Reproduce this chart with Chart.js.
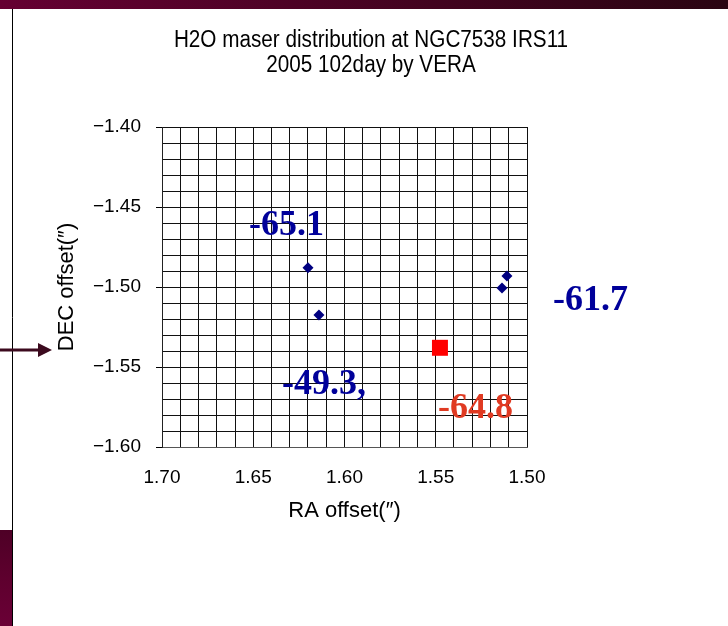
<!DOCTYPE html>
<html>
<head>
<meta charset="utf-8">
<script src="https://cdn.jsdelivr.net/npm/chart.js@4/dist/chart.umd.min.js"></script>
<style>
  html, body { margin: 0; padding: 0; background: #fff; overflow: hidden; }
  #wrap { position: relative; width: 728px; height: 626px; }
</style>
</head>
<body>
<div id="wrap"><canvas id="c" width="728" height="626"></canvas></div>
<script>
// ---- chart data ----
const titleLines = ['H2O maser distribution at NGC7538 IRS11', '2005 102day by VERA'];
const xAxisTitle = 'RA offset(\u2033)';
const yAxisTitle = 'DEC offset(\u2033)';
const raRange = [1.50, 1.70];
const decRange = [-1.60, -1.40];
const gridStep = 0.01;
const labelStep = 0.05;

// maser spots (RA offset, DEC offset in arcsec)
const blueSpotRA  = [1.620, 1.614, 1.5137, 1.511];
const blueSpotDEC = [-1.488, -1.5175, -1.5006, -1.4931];
const redSpotRA   = [1.5477];
const redSpotDEC  = [-1.538];

// LSR velocity labels
const velocityText = ['-65.1', '-61.7', '-49.3,', '-64.8'];

// ---- label placement (data units: left edge / baseline) and colours ----
const velocityAnchors = [
  { ra: 1.6523, dec: -1.4675, color: '#00009a' },
  { ra: 1.4858, dec: -1.5144, color: '#00009a' },
  { ra: 1.6342, dec: -1.5670, color: '#00009a' },
  { ra: 1.5488, dec: -1.5819, color: '#e03a22' }
];

const UI_FONT = '"Liberation Sans", Arial, sans-serif';

const toPoints = (xs, ys) => xs.map((x, i) => ({ x, y: ys[i] }));
const isMajor = v => Math.abs(v / labelStep - Math.round(v / labelStep)) < 1e-6;

// slide frame behind the chart
const slideFrame = {
  id: 'slideFrame',
  beforeDraw(chart) {
    const ctx = chart.ctx;
    ctx.save();
    ctx.fillStyle = '#ffffff';
    ctx.fillRect(0, 0, chart.width, chart.height);
    // top band
    const g = ctx.createLinearGradient(0, 0, chart.width, 0);
    g.addColorStop(0, '#650032');
    g.addColorStop(1, '#2a0512');
    ctx.fillStyle = g;
    ctx.fillRect(0, 0, chart.width, 9);
    // lower-left block
    const g2 = ctx.createLinearGradient(0, 530, 0, 626);
    g2.addColorStop(0, '#4e0026');
    g2.addColorStop(0.5, '#5e002e');
    g2.addColorStop(1, '#6a0036');
    ctx.fillStyle = g2;
    ctx.fillRect(0, 530, 12, 96);
    // divider line
    ctx.strokeStyle = '#000';
    ctx.lineWidth = 1;
    ctx.beginPath();
    ctx.moveTo(12.5, 9);
    ctx.lineTo(12.5, 626);
    ctx.stroke();
    // pointer arrow
    ctx.strokeStyle = '#3c0a1e';
    ctx.fillStyle = '#3c0a1e';
    ctx.lineWidth = 3;
    ctx.beginPath();
    ctx.moveTo(0, 350);
    ctx.lineTo(40, 350);
    ctx.stroke();
    ctx.beginPath();
    ctx.moveTo(38, 343);
    ctx.lineTo(52, 350);
    ctx.lineTo(38, 357);
    ctx.closePath();
    ctx.fill();
    ctx.restore();
  }
};

// two-line heading in a slightly condensed face
const heading = {
  id: 'heading',
  afterDraw(chart) {
    const ctx = chart.ctx;
    ctx.save();
    ctx.fillStyle = '#000';
    ctx.font = '23px ' + UI_FONT;
    ctx.textAlign = 'center';
    ctx.textBaseline = 'middle';
    const cx = 371, sx = 0.9;
    titleLines.forEach((t, i) => {
      ctx.save();
      ctx.translate(cx, 41 + i * 25);
      ctx.scale(sx, 1);
      ctx.fillText(t, 0, 0);
      ctx.restore();
    });
    ctx.restore();
  }
};

// velocity labels anchored in data coordinates
const velocityLabels = {
  id: 'velocityLabels',
  afterDatasetsDraw(chart) {
    const ctx = chart.ctx;
    const xs = chart.scales.x, ys = chart.scales.y;
    ctx.save();
    ctx.font = 'bold 36px "Liberation Serif", "Times New Roman", serif';
    ctx.textAlign = 'left';
    ctx.textBaseline = 'alphabetic';
    velocityText.forEach((t, i) => {
      const a = velocityAnchors[i];
      ctx.fillStyle = a.color;
      ctx.fillText(t, xs.getPixelForValue(a.ra), ys.getPixelForValue(a.dec));
    });
    ctx.restore();
  }
};

new Chart(document.getElementById('c'), {
  type: 'scatter',
  data: {
    datasets: [
      {
        data: toPoints(blueSpotRA, blueSpotDEC),
        pointStyle: 'rectRot',
        pointRadius: 5.5,
        pointHoverRadius: 5.5,
        backgroundColor: '#000080',
        borderColor: '#000080',
        borderWidth: 0
      },
      {
        data: toPoints(redSpotRA, redSpotDEC),
        pointStyle: 'rect',
        pointRadius: 11.3,
        pointHoverRadius: 11.3,
        backgroundColor: '#ff0000',
        borderColor: '#ff0000',
        borderWidth: 0
      }
    ]
  },
  options: {
    responsive: false,
    animation: false,
    events: [],
    layout: { padding: { left: 50, right: 201, top: 127, bottom: 98 } },
    plugins: {
      legend: { display: false },
      tooltip: { enabled: false },
      title: { display: false }
    },
    scales: {
      x: {
        type: 'linear',
        reverse: true,
        min: raRange[0],
        max: raRange[1],
        afterFit: s => { s.height = 81; },
        grid: { color: '#111', lineWidth: 1, drawTicks: false },
        border: { display: true, color: '#555', width: 1 },
        ticks: {
          stepSize: gridStep,
          autoSkip: false,
          minRotation: 0,
          maxRotation: 0,
          padding: 19.5,
          color: '#000',
          font: { family: UI_FONT, size: 19 },
          callback: v => isMajor(v) ? v.toFixed(2) : ''
        },
        title: {
          display: true,
          text: xAxisTitle,
          color: '#000',
          font: { family: UI_FONT, size: 22 }
        }
      },
      y: {
        type: 'linear',
        min: decRange[0],
        max: decRange[1],
        afterFit: s => { s.width = 112; },
        grid: {
          color: '#111',
          lineWidth: 1,
          drawTicks: true,
          tickLength: 6,
          tickColor: c => (c.tick && isMajor(c.tick.value)) ? '#000' : 'rgba(0,0,0,0)'
        },
        border: { display: true, color: '#222', width: 1 },
        ticks: {
          stepSize: gridStep,
          autoSkip: false,
          padding: 15,
          color: '#000',
          font: { family: UI_FONT, size: 19 },
          callback: v => isMajor(v) ? v.toFixed(2).replace('-', '\u2212') : ''
        },
        title: {
          display: true,
          text: yAxisTitle,
          color: '#000',
          font: { family: UI_FONT, size: 22 }
        }
      }
    }
  },
  plugins: [slideFrame, heading, velocityLabels]
});
</script>
</body>
</html>
